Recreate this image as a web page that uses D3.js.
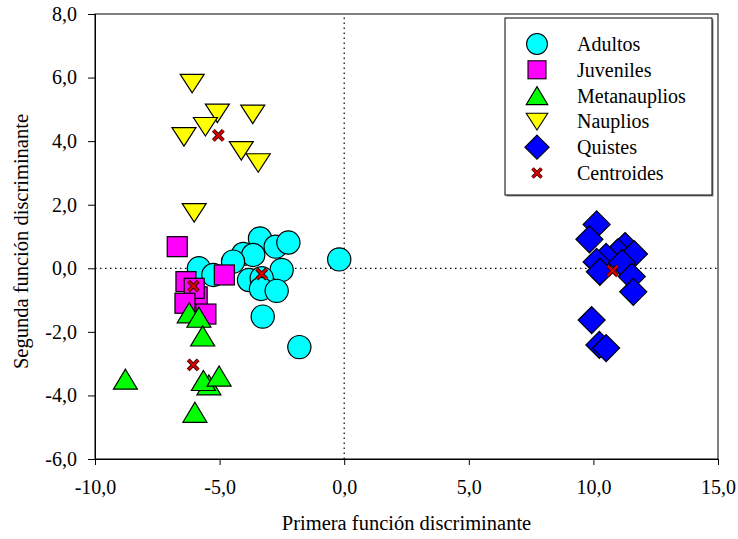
<!DOCTYPE html>
<html>
<head>
<meta charset="utf-8">
<script src="https://cdn.jsdelivr.net/npm/d3@7"></script>
<style>
  html, body { margin: 0; padding: 0; background: #fff; }
  svg { display: block; font-family: "Liberation Serif", "Times New Roman", serif; }
</style>
</head>
<body>
<svg id="chart" width="738" height="539"></svg>
<script>
// Discriminant scores per group: [first function, second function]
const adultos = [
  [-3.38, 0.94], [-2.75, 0.68], [-2.24, 0.81], [-4.05, 0.45], [-3.65, 0.42],
  [-4.46, 0.21], [-5.83, 0.00], [-5.25, -0.21], [-2.51, -0.05], [-3.82, -0.37],
  [-3.31, -0.31], [-3.34, -0.65], [-2.71, -0.71], [-3.27, -1.52], [-1.80, -2.48],
  [-0.20, 0.28]
];
const juveniles = [
  [-6.70, 0.68], [-4.81, -0.21], [-6.35, -0.42], [-5.90, -0.90], [-6.02, -0.63],
  [-6.39, -1.10], [-5.55, -1.44]
];
const metanauplios = [
  [-6.22, -1.40], [-5.83, -1.54], [-5.68, -2.13], [-8.78, -3.49], [-5.43, -3.67],
  [-5.65, -3.53], [-5.02, -3.39], [-5.99, -4.53]
];
const nauplios = [
  [-6.10, 5.82], [-5.09, 4.88], [-3.67, 4.85], [-5.57, 4.46], [-6.43, 4.14],
  [-4.13, 3.70], [-3.45, 3.32], [-6.02, 1.75]
];
const quistes = [
  [10.13, 1.38], [9.84, 0.91], [11.27, 0.70], [10.99, 0.51], [11.63, 0.45],
  [10.51, 0.36], [10.13, 0.20], [11.15, 0.17], [10.26, -0.11], [11.54, -0.26],
  [11.60, -0.74], [9.93, -1.63], [10.24, -2.41], [10.51, -2.51]
];
const centroides = [
  [-3.31, -0.18], [-6.05, -0.56], [-6.06, -3.04], [-5.05, 4.18], [10.77, -0.08]
];

const xTicks = [-10, -5, 0, 5, 10, 15];
const yTicks = [-6, -4, -2, 0, 2, 4, 6, 8];
const fmt = v => d3.format(".1f")(v).replace(".", ",").replace("−", "-");

const svg = d3.select("#chart");

const x = d3.scaleLinear().domain([-10, 15]).range([95, 718]);
const y = d3.scaleLinear().domain([-6, 8]).range([459, 14]);

// Dotted reference lines through the origin
svg.append("line")
  .attr("x1", x(-10)).attr("x2", x(15)).attr("y1", y(0)).attr("y2", y(0))
  .attr("stroke", "#000").attr("stroke-width", 1.2).attr("stroke-dasharray", "1.5,3.5");
svg.append("line")
  .attr("x1", x(0)).attr("x2", x(0)).attr("y1", y(-6)).attr("y2", y(8))
  .attr("stroke", "#000").attr("stroke-width", 1.2).attr("stroke-dasharray", "1.5,3.5");

// Plot frame
svg.append("rect")
  .attr("x", x(-10)).attr("y", y(8))
  .attr("width", x(15) - x(-10)).attr("height", y(-6) - y(8))
  .attr("fill", "none").attr("stroke", "#000").attr("stroke-width", 1);

// Axes
const xAxis = d3.axisBottom(x).tickValues(xTicks).tickFormat(fmt).tickSize(6).tickPadding(15);
const yAxis = d3.axisLeft(y).tickValues(yTicks).tickFormat(fmt).tickSize(7).tickPadding(11);

const gx = svg.append("g").attr("transform", `translate(0,${y(-6)})`).call(xAxis);
const gy = svg.append("g").attr("transform", `translate(${x(-10)},0)`).call(yAxis);
[gx, gy].forEach(g => {
  g.select(".domain").attr("stroke", "#000");
  g.selectAll(".tick line").attr("stroke", "#000");
  g.selectAll(".tick text").attr("fill", "#000")
    .style("font-family", '"Liberation Serif", serif').style("font-size", "20px");
});

// Axis titles
svg.append("text")
  .attr("x", (x(-10) + x(15)) / 2).attr("y", 530)
  .attr("text-anchor", "middle").attr("font-size", "20.5px").text("Primera función discriminante");
svg.append("text")
  .attr("transform", `translate(28,${(y(8) + y(-6)) / 2 + 5}) rotate(-90)`)
  .attr("text-anchor", "middle").attr("font-size", "20.5px").text("Segunda función discriminante");

// Marker shapes
const shapes = {
  circle: g => g.append("circle").attr("r", 11.6),
  square: g => g.append("rect").attr("x", -10).attr("y", -10).attr("width", 20).attr("height", 20),
  up: g => g.append("path").attr("d", "M0,-10L12,10L-12,10Z"),
  down: g => g.append("path").attr("d", "M0,9.5L12,-9L-12,-9Z"),
  diamond: g => g.append("path").attr("d", "M0,-13.5L13.5,0L0,13.5L-13.5,0Z"),
  cross: g => {
    g.append("path").attr("d", "M-5,-5L5,5M5,-5L-5,5")
      .attr("stroke", "#3a0000").attr("stroke-width", 4).attr("fill", "none");
    g.append("path").attr("d", "M-5,-5L5,5M5,-5L-5,5")
      .attr("stroke", "#e00000").attr("stroke-width", 2).attr("fill", "none");
  }
};

const groups = [
  { name: "Adultos", data: adultos, shape: "circle", color: "#00ffff" },
  { name: "Juveniles", data: juveniles, shape: "square", color: "#ff00ff" },
  { name: "Metanauplios", data: metanauplios, shape: "up", color: "#00ff00" },
  { name: "Nauplios", data: nauplios, shape: "down", color: "#ffff00" },
  { name: "Quistes", data: quistes, shape: "diamond", color: "#0000ff" },
  { name: "Centroides", data: centroides, shape: "cross", color: "#e00000" }
];

function marker(sel, grp) {
  sel.each(function () {
    const g = d3.select(this);
    shapes[grp.shape](g);
    if (grp.shape !== "cross") {
      g.selectAll("*").attr("fill", grp.color).attr("stroke", "#000").attr("stroke-width", 1.2);
    }
  });
}

groups.forEach(grp => {
  svg.append("g").selectAll("g").data(grp.data).join("g")
    .attr("transform", d => `translate(${x(d[0])},${y(d[1])})`)
    .call(marker, grp);
});

// Legend
const lg = svg.append("g").attr("transform", "translate(505,18)");
lg.append("rect").attr("x", 1.5).attr("y", 1.5).attr("width", 207).attr("height", 177).attr("fill", "#888");
lg.append("rect").attr("x", 0).attr("y", 0).attr("width", 207).attr("height", 177)
  .attr("fill", "#fff").attr("stroke", "#000").attr("stroke-width", 1);
groups.forEach((grp, i) => {
  const row = lg.append("g").attr("transform", `translate(32,${26 + i * 25.8})`);
  row.append("g").attr("transform", "scale(0.9)").call(marker, grp);
  row.append("text").attr("x", 40).attr("y", 7).attr("font-size", "20px").text(grp.name);
});
</script>
</body>
</html>
